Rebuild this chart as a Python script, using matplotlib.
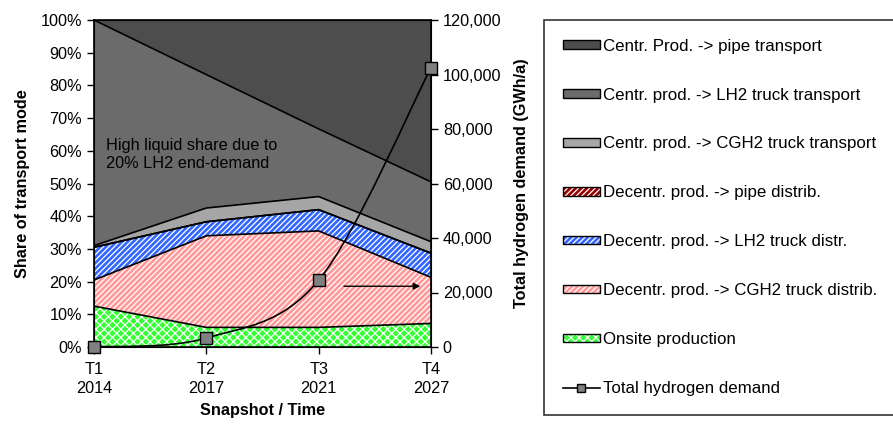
import matplotlib
matplotlib.use("Agg")
import matplotlib.pyplot as plt
from matplotlib.patches import Patch
from matplotlib.lines import Line2D
from matplotlib.path import Path
from matplotlib.patches import PathPatch
from matplotlib.legend_handler import HandlerTuple
import numpy as np

plt.rcParams["font.family"] = ["Liberation Sans", "DejaVu Sans"]
plt.rcParams["hatch.linewidth"] = 0.9

# data (shares in %, per snapshot)
snapshots = ["T1\n2014", "T2\n2017", "T3\n2021", "T4\n2027"]
onsite = [12.5, 6.0, 6.0, 7.2]
decentr_cgh2 = [8.0, 28.0, 29.5, 14.1]
decentr_lh2 = [10.0, 4.3, 6.5, 7.4]
decentr_pipe = [0.0, 0.0, 0.0, 0.0]
centr_cgh2 = [0.5, 4.2, 4.0, 3.5]
centr_lh2 = [69.0, 40.8, 20.7, 18.3]
centr_pipe = [0.0, 16.7, 33.3, 49.5]
demand = [0, 3300, 24500, 102500]  # GWh/a

layers = [
    ("Onsite production", onsite, "#33ff33", "xxxx"),
    ("Decentr. prod. -> CGH2 truck distrib.", decentr_cgh2, "#ff9999", "//////"),
    ("Decentr. prod. -> LH2 truck distr.", decentr_lh2, "#3366ff", "//////"),
    ("Decentr. prod. -> pipe distrib.", decentr_pipe, "#990000", "//////"),
    ("Centr. prod. -> CGH2 truck transport", centr_cgh2, "#a6a6a6", None),
    ("Centr. prod. -> LH2 truck transport", centr_lh2, "#6b6b6b", None),
    ("Centr. Prod. -> pipe transport", centr_pipe, "#4d4d4d", None),
]

FS = 11.7

fig = plt.figure(figsize=(8.93, 4.29), dpi=100)
ax = fig.add_axes([94 / 893, 1 - 347 / 429, 337 / 893, 327 / 429])
x = np.arange(len(snapshots))

base = np.zeros(len(x))
handles = []
labels = []
for name, vals, col, hatch in layers:
    top = base + np.array(vals)
    if hatch:
        ax.fill_between(x, base, top, facecolor=col, edgecolor="white",
                        hatch=hatch, linewidth=0, zorder=1)
    else:
        ax.fill_between(x, base, top, facecolor=col, linewidth=0, zorder=1)
    ax.plot(x, top, color="black", lw=1.2, zorder=2)
    if hatch:
        h = (Patch(facecolor=col, edgecolor="white", hatch=hatch, lw=0),
             Patch(facecolor="none", edgecolor="black", lw=1.0))
    else:
        h = Patch(facecolor=col, edgecolor="black", lw=1.0)
    handles.append(h)
    labels.append(name)
    base = top

ax.set_xlim(0, 3)
ax.set_ylim(0, 100)
ax.set_yticks(np.arange(0, 101, 10))
ax.set_yticklabels([f"{v}%" for v in range(0, 101, 10)])
ax.set_xticks(x)
ax.set_xticklabels(snapshots, linespacing=1.3)
ax.tick_params(labelsize=FS, direction="out", length=5, width=1)
ax.tick_params(axis="x", pad=6)
for s in ax.spines.values():
    s.set_linewidth(1.2)
ax.set_ylabel("Share of transport mode", fontsize=FS, fontweight="bold", labelpad=8)
ax.set_xlabel("Snapshot / Time", fontsize=FS, fontweight="bold", labelpad=5)

ax.text(0.11, 59, "High liquid share due to\n20% LH2 end-demand", fontsize=FS,
        va="center", ha="left", zorder=3, linespacing=1.25)

# demand on secondary axis
ax2 = ax.twinx()
ax2.set_ylim(0, 120000)
ax2.set_yticks(np.arange(0, 120001, 20000))
ax2.set_yticklabels([f"{v:,}" for v in range(0, 120001, 20000)])
ax2.tick_params(labelsize=FS, direction="out", length=5, width=1)
ax2.set_ylabel("Total hydrogen demand (GWh/a)", fontsize=FS, fontweight="bold", labelpad=9)

# smoothed demand curve (Catmull-Rom style bezier through the points)
px = np.array(x, dtype=float)
py = np.array(demand, dtype=float)
verts = [(px[0], py[0])]
codes = [Path.MOVETO]
n = len(px)
for i in range(n - 1):
    p0 = np.array([px[max(i - 1, 0)], py[max(i - 1, 0)]])
    p1 = np.array([px[i], py[i]])
    p2 = np.array([px[i + 1], py[i + 1]])
    p3 = np.array([px[min(i + 2, n - 1)], py[min(i + 2, n - 1)]])
    c1 = p1 + (p2 - p0) / 6
    c2 = p2 - (p3 - p1) / 6
    verts += [tuple(c1), tuple(c2), tuple(p2)]
    codes += [Path.CURVE4] * 3
ax2.add_patch(PathPatch(Path(verts, codes), facecolor="none", edgecolor="black",
                        lw=1.2, zorder=4, clip_on=False))
ax2.plot(px, py, ls="none", marker="s", ms=9, mfc="#808080", mec="black",
         mew=1.0, zorder=5, clip_on=False)

ax2.annotate("", xy=(2.93, 22300), xytext=(2.2, 22300),
             arrowprops=dict(arrowstyle="-|>", color="black", lw=1.0,
                             mutation_scale=10))

handles = handles[::-1]
labels = labels[::-1]
handles.append(Line2D([], [], color="black", lw=1.2, marker="s", ms=6,
                      mfc="#808080", mec="black"))
labels.append("Total hydrogen demand")

leg = fig.legend(handles, labels, loc="upper left",
                 bbox_to_anchor=(544 / 893, 1 - 412 / 429, 352 / 893, 392 / 429),
                 mode="expand", fontsize=12.2, frameon=True, fancybox=False,
                 edgecolor="black", handlelength=2.2, handleheight=0.4,
                 handletextpad=0.2, labelspacing=2.0, borderpad=1.1,
                 borderaxespad=0,
                 handler_map={tuple: HandlerTuple(ndivide=1, pad=0)})
leg.get_frame().set_linewidth(1.2)

fig.savefig("out.png", dpi=100)
